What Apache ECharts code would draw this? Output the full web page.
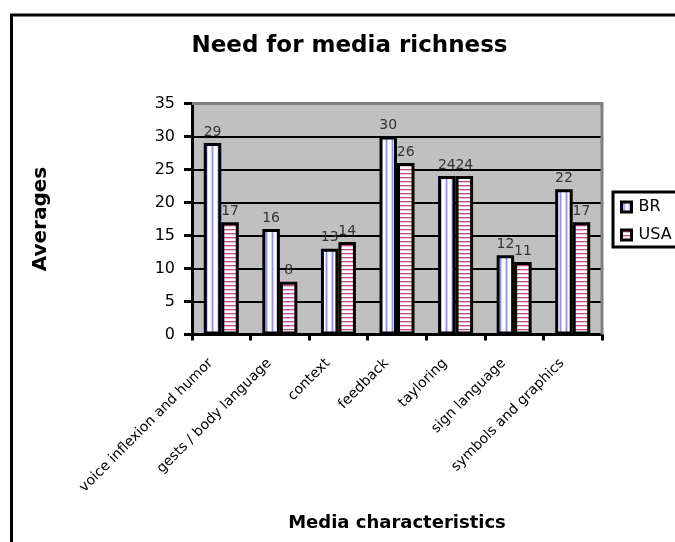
<!DOCTYPE html>
<html>
<head>
<meta charset="utf-8">
<script src="https://cdn.jsdelivr.net/npm/echarts@6/dist/echarts.min.js"></script>
<style>
html,body{margin:0;padding:0;background:#fff;}
#chart{width:675px;height:542px;}
</style>
</head>
<body>
<div id="chart"></div>
<script>
const categories = ['voice inflexion and humor', 'gests / body language', 'context', 'feedback', 'tayloring', 'sign language', 'symbols and graphics'];
const seriesNames = ['BR', 'USA'];
const brValues = [29, 16, 13, 30, 24, 12, 22];
const usaValues = [17, 8, 14, 26, 24, 11, 17];
const yMin = 0, yMax = 35, yStep = 5;

const FONT = 'DejaVu Sans';

function makePattern(kind) {
  const c = document.createElement('canvas');
  if (kind === 'v') {
    c.width = 6; c.height = 4;
    const g = c.getContext('2d');
    g.fillStyle = '#ffffff'; g.fillRect(0, 0, 6, 4);
    g.fillStyle = '#d0d0ff'; g.fillRect(1, 0, 1, 4); g.fillRect(3, 0, 1, 4);
    g.fillStyle = '#9090ff'; g.fillRect(2, 0, 1, 4);
  } else {
    c.width = 4; c.height = 4;
    const g = c.getContext('2d');
    g.fillStyle = '#ffffff'; g.fillRect(0, 0, 4, 4);
    g.fillStyle = '#c04c86'; g.fillRect(0, 1, 4, 1);
    g.fillStyle = '#f0c4da'; g.fillRect(0, 2, 4, 1);
  }
  return { image: c, repeat: 'repeat' };
}
const brFill = makePattern('v');
const usaFill = makePattern('h');

const chart = echarts.init(document.getElementById('chart'), null, { renderer: 'canvas' });

const labelStyle = { show: true, position: 'top', distance: 4, color: '#333333', fontFamily: FONT, fontSize: 14 };

const option = {
  animation: false,
  backgroundColor: '#ffffff',
  textStyle: { fontFamily: FONT },
  grid: {
    left: 192, right: 73, top: 103.5, bottom: 207.5,
    show: true, backgroundColor: '#c0c0c0', borderColor: '#808080', borderWidth: 0
  },
  legend: {
    left: 613, top: 192, orient: 'vertical',
    backgroundColor: '#ffffff', borderColor: '#000000', borderWidth: 3, borderRadius: 0,
    padding: [6, 22, 3, 7], itemGap: 10, itemWidth: 10, itemHeight: 10,
    icon: 'rect',
    textStyle: { fontFamily: FONT, fontSize: 16, color: '#000000', lineHeight: 18, padding: [0, 0, 0, 2] },
    data: [
      { name: seriesNames[0], itemStyle: { color: brFill, borderColor: '#000', borderWidth: 3 } },
      { name: seriesNames[1], itemStyle: { color: usaFill, borderColor: '#000', borderWidth: 3 } }
    ]
  },
  xAxis: {
    type: 'category', data: categories, boundaryGap: true,
    name: 'Media characteristics', nameLocation: 'middle', nameGap: 180,
    nameTextStyle: { fontFamily: FONT, fontSize: 18, fontWeight: 'bold', color: '#000' },
    axisLine: { show: true, lineStyle: { color: '#000', width: 3 } },
    axisTick: { show: true, interval: 0, length: 6, lineStyle: { color: '#000', width: 3 } },
    axisLabel: { interval: 0, rotate: 45, margin: 16, fontFamily: FONT, fontSize: 14, color: '#000', padding: [0, 15, 0, 0] },
    splitLine: { show: false }
  },
  yAxis: {
    type: 'value', min: yMin, max: yMax, interval: yStep,
    name: 'Averages', nameLocation: 'middle', nameGap: 141, nameRotate: 90,
    nameTextStyle: { fontFamily: FONT, fontSize: 20, fontWeight: 'bold', color: '#000' },
    axisLine: { show: true, lineStyle: { color: '#000', width: 3 } },
    axisTick: { show: true, length: 8, lineStyle: { color: '#000', width: 3 } },
    axisLabel: { margin: 17, fontFamily: FONT, fontSize: 16, color: '#000' },
    splitLine: { show: true, lineStyle: { color: '#000', width: 2 } }
  },
  series: [
    {
      name: seriesNames[0], type: 'bar', data: brValues, barWidth: 17.5, barGap: '0%',
      itemStyle: { color: brFill, borderColor: '#000', borderWidth: 3 },
      label: labelStyle
    },
    {
      name: seriesNames[1], type: 'bar', data: usaValues, barWidth: 17.5,
      itemStyle: { color: usaFill, borderColor: '#000', borderWidth: 3 },
      label: labelStyle
    }
  ]
};
chart.setOption(option);

// decorations: outer chart border, title, gray plot-area border on top/right
const rect = chart.getModel().getComponent('grid').coordinateSystem.getRect();
chart.setOption({
  graphic: [
    { type: 'rect', z: 100, silent: true, shape: { x: 11.5, y: 15, width: 900, height: 900 },
      style: { fill: 'none', stroke: '#000', lineWidth: 3 } },
    { type: 'text', z: 100, silent: true, x: 349.5, y: 46,
      style: { text: 'Need for media richness', fontFamily: FONT, fontSize: 23, fontWeight: 'bold', fill: '#000', align: 'center', verticalAlign: 'middle' } },
    { type: 'polyline', z: 1, silent: true,
      shape: { points: [[rect.x, rect.y], [rect.x + rect.width, rect.y], [rect.x + rect.width, rect.y + rect.height]] },
      style: { stroke: '#808080', lineWidth: 3, fill: 'none' } }
  ]
});
</script>
</body>
</html>
